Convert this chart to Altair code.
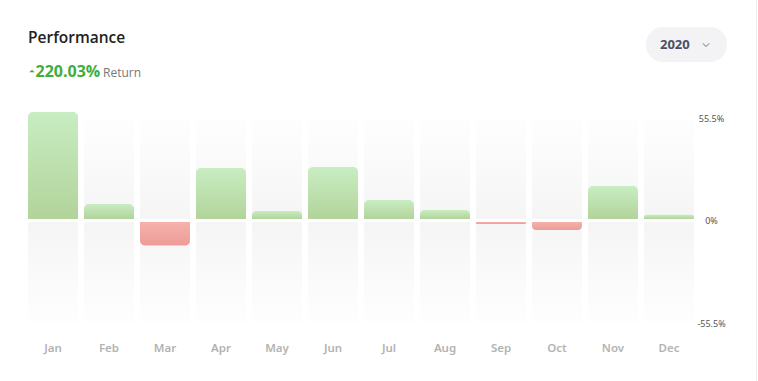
import altair as alt
import pandas as pd

months = ["Jan", "Feb", "Mar", "Apr", "May", "Jun", "Jul", "Aug", "Sep", "Oct", "Nov", "Dec"]
returns = [58.7, 8.9, -13.6, 28.4, 5.1, 29.0, 11.1, 5.7, -1.9, -5.1, 18.7, 3.1]
axis_limit = 55.5
total_return = "220.03%"
year_label = "2020"

df = pd.DataFrame({"month": months, "ret": returns})
df["top"] = axis_limit
df["bottom"] = -axis_limit
df["zero"] = 0.0

xenc = alt.X("month:N", sort=months,
             scale=alt.Scale(paddingInner=6 / 56, paddingOuter=0),
             axis=alt.Axis(title=None, domain=False, ticks=False, labelAngle=0,
                           labelPadding=19, labelFontSize=11.5, labelFont="Noto Sans",
                           labelFontWeight=600, labelColor="#b3b3b3"))
yaxis = alt.Axis(title=None, orient="right", values=[-axis_limit, 0, axis_limit],
                 labelExpr="datum.value + '%'", domain=False, ticks=False, grid=False,
                 labelAlign="center", labelPadding=17, labelBaseline="middle",
                 labelFontSize=9, labelFont="Noto Sans", labelColor="#555555")
yscale = alt.Scale(domain=[-axis_limit, axis_limit], nice=False)

def grad(c1, c2):
    return alt.Gradient(gradient="linear", x1=0, x2=0, y1=0, y2=1,
                        stops=[alt.GradientStop(color=c1, offset=0),
                               alt.GradientStop(color=c2, offset=1)])

bg_up = alt.Chart(df).mark_bar(color=grad("#fefefe", "#f5f5f5"), y2Offset=-1.5).encode(
    x=xenc, y=alt.Y("top:Q", scale=yscale, axis=yaxis), y2="zero:Q")
bg_dn = alt.Chart(df).mark_bar(color=grad("#f5f5f5", "#fefefe"), y2Offset=1.5).encode(
    x=xenc, y=alt.Y("bottom:Q", scale=yscale, axis=yaxis), y2="zero:Q")

pos = alt.Chart(df).transform_filter("datum.ret >= 0").mark_bar(
    color=grad("#c8edc2", "#b2d39a"), y2Offset=-1.5,
    cornerRadiusTopLeft=5, cornerRadiusTopRight=5).encode(
    x=xenc, y=alt.Y("ret:Q", scale=yscale, axis=yaxis), y2="zero:Q")
neg = alt.Chart(df).transform_filter("datum.ret < 0").mark_bar(
    color=grad("#f5b2ac", "#ee9b95"), y2Offset=1.5,
    cornerRadiusBottomLeft=5, cornerRadiusBottomRight=5).encode(
    x=xenc, y=alt.Y("ret:Q", scale=yscale, axis=yaxis), y2="zero:Q")

one = pd.DataFrame({"a": [0]})
base = alt.Chart(one)

title = base.mark_text(text="Performance", align="left", baseline="alphabetic",
                       font="Open Sans", fontSize=15.5, fontWeight=600, color="#222222").encode(
    x=alt.value(0), y=alt.value(-75))
tri = base.mark_point(shape="M-1,0.5L0,-0.5L1,0.5Z", filled=True, size=30, color="#3fae3a", opacity=1).encode(
    x=alt.value(4), y=alt.value(-47))
ret_txt = base.mark_text(text=total_return, align="left", baseline="alphabetic",
                         font="Open Sans", fontSize=16, fontWeight=700, color="#3fae3a").encode(
    x=alt.value(7.5), y=alt.value(-41))
ret_lbl = base.mark_text(text="Return", align="left", baseline="alphabetic",
                         font="Open Sans", fontSize=12, color="#777777").encode(
    x=alt.value(75), y=alt.value(-41))
pill = base.mark_rect(color="#f3f3f5", cornerRadius=17).encode(
    x=alt.value(618), x2=alt.value(699), y=alt.value(-91), y2=alt.value(-56))
year = base.mark_text(text=year_label, align="left", baseline="alphabetic",
                      font="Open Sans", fontSize=13, fontWeight=700, color="#4a4f63").encode(
    x=alt.value(632), y=alt.value(-69))
chev = base.mark_point(shape="M-1,-0.5L0,0.5L1,-0.5", filled=False, size=40,
                       strokeWidth=1, color="#6b6f80", opacity=1).encode(
    x=alt.value(678), y=alt.value(-73))
edge = base.mark_rule(color="#ebebeb", strokeWidth=1).encode(
    x=alt.value(728.5), y=alt.value(-118), y2=alt.value(263))

chart = alt.layer(bg_up, bg_dn, pos, neg, title, tri, ret_txt, ret_lbl, pill, year, chev, edge).properties(
    width=666, height=205,
    autosize=alt.AutoSizeParams(type="none"),
    padding={"left": 28, "top": 118, "right": 64, "bottom": 58},
    background="white",
).configure_view(stroke=None)

chart.save("out.html", embed_options={"renderer": "svg", "actions": False})
